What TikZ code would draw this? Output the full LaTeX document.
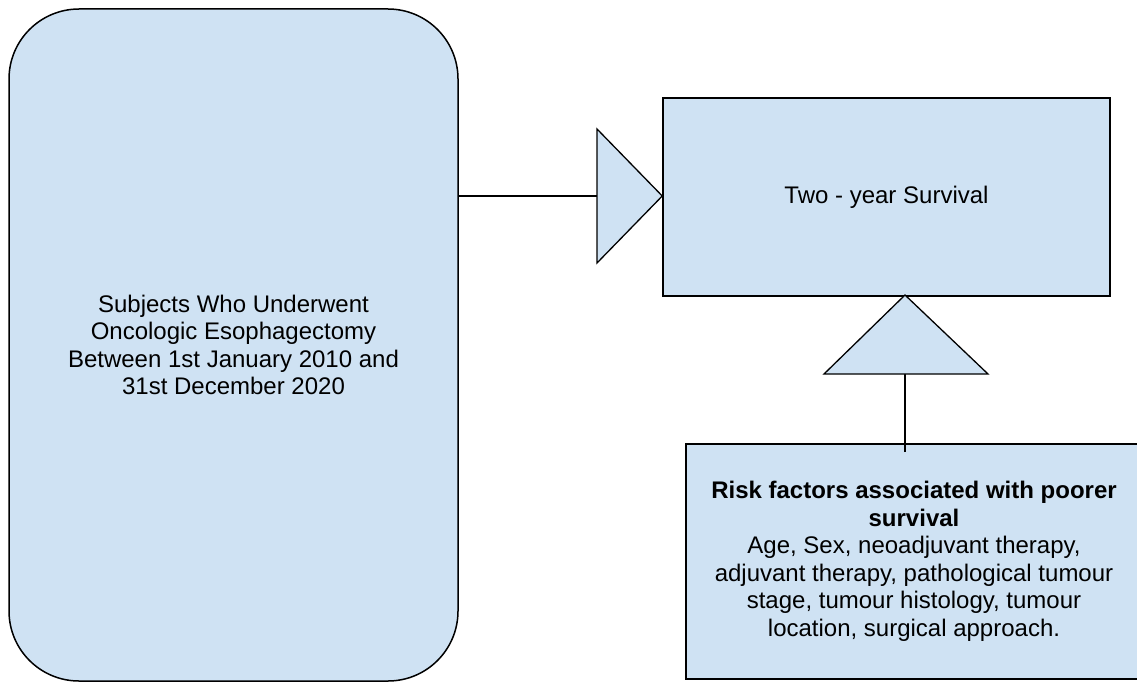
\documentclass[tikz,border=0pt]{standalone}
\usepackage{fontspec}
\setmainfont{Liberation Sans}
\usetikzlibrary{positioning,calc}
\definecolor{paleblue}{HTML}{CFE2F3}
\tikzset{box/.style={draw=black,fill=paleblue,line width=1.5pt,align=center,font=\fontsize{24}{27.5}\selectfont,inner sep=0pt}, roundbox/.style={box,rounded corners=70pt}, tri/.style={draw=black,fill=paleblue,line width=1.3pt,line join=miter}, link/.style={draw=black,line width=1.6pt}}

\begin{document}
\begin{tikzpicture}[x=1pt,y=-1pt]
\useasboundingbox (0,0) rectangle (1137,682);
\node[roundbox,minimum width=449pt,minimum height=672pt] (subj) at (233.5,345) {Subjects Who Underwent\\Oncologic Esophagectomy\\Between 1st January 2010 and\\31st December 2020};
\node[box,minimum width=447pt,minimum height=198pt] (surv) at (886.5,197) {Two - year Survival};
\node[box,minimum width=456pt,minimum height=235pt] (risk) at (914,561.5) {\textbf{Risk factors associated with poorer}\\\textbf{survival}\\Age, Sex, neoadjuvant therapy,\\adjuvant therapy, pathological tumour\\stage, tumour histology, tumour\\location, surgical approach.};
% triangle heads
\coordinate (rtop) at (597,129);\coordinate (rbot) at (597,263);\coordinate (rmid) at (597,196);
\coordinate (uleft) at (824,374);\coordinate (uright) at (988,374);\coordinate (umid) at (905,374);\coordinate (utip) at (905,295);
\coordinate (ufoot) at (905,452);
\draw[link] (subj.east |- rmid) -- (rmid);
\draw[link] (ufoot) -- (umid);
\draw[tri] (rtop) -- (surv.west |- rmid) -- (rbot) -- cycle;
\draw[tri] (uleft) -- (utip) -- (uright) -- cycle;
\end{tikzpicture}
\end{document}
